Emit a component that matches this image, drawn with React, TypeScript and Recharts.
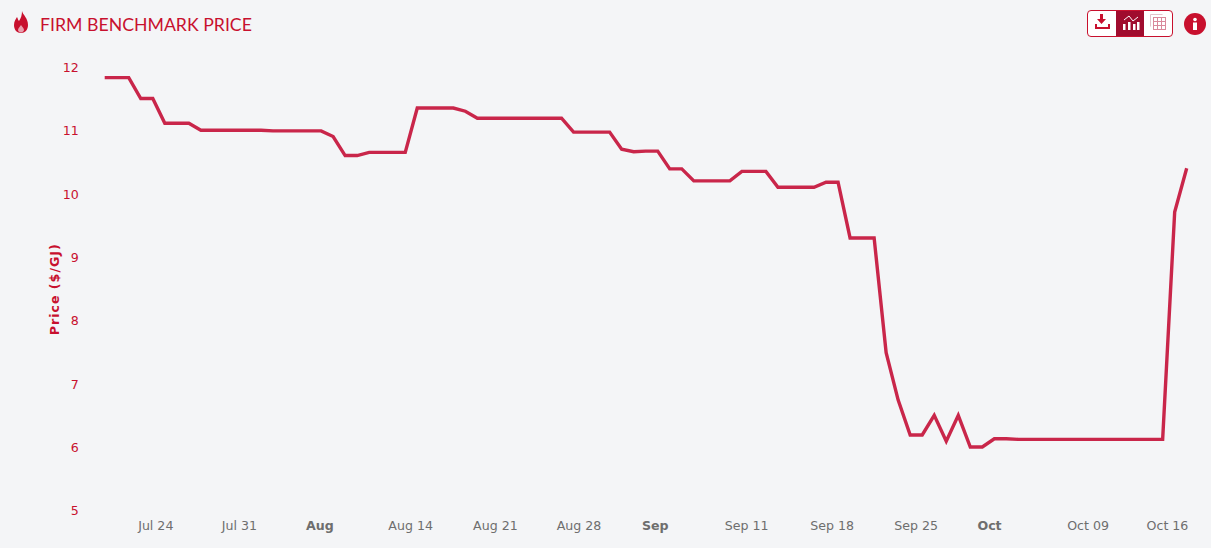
import React from 'react';
import { LineChart, Line, XAxis, YAxis } from 'recharts';

// daily price, one entry per day starting Jul 20
const prices = [
  11.84, 11.84, 11.84, 11.51, 11.51, 11.12, 11.12, 11.12, 11.01, 11.01,
  11.01, 11.01, 11.01, 11.01, 11.0, 11.0, 11.0, 11.0, 11.0, 10.91,
  10.61, 10.61, 10.66, 10.66, 10.66, 10.66, 11.36, 11.36, 11.36, 11.36,
  11.31, 11.2, 11.2, 11.2, 11.2, 11.2, 11.2, 11.2, 11.2, 10.98,
  10.98, 10.98, 10.98, 10.71, 10.67, 10.68, 10.68, 10.4, 10.4, 10.21,
  10.21, 10.21, 10.21, 10.36, 10.36, 10.36, 10.11, 10.11, 10.11, 10.11,
  10.19, 10.19, 9.31, 9.31, 9.31, 7.5, 6.75, 6.2, 6.2, 6.51,
  6.1, 6.51, 6.01, 6.01, 6.14, 6.14, 6.13, 6.13, 6.13, 6.13,
  6.13, 6.13, 6.13, 6.13, 6.13, 6.13, 6.13, 6.13, 6.13, 9.72,
  10.41,
];

// label positions in day units
const xTicks = [4.25, 11.2, 17.9, 25.45, 32.5, 39.45, 45.8, 53.4, 60.5, 67.5, 73.6, 81.8, 88.4];
const xLabels = ['Jul 24', 'Jul 31', 'Aug', 'Aug 14', 'Aug 21', 'Aug 28', 'Sep', 'Sep 11', 'Sep 18', 'Sep 25', 'Oct', 'Oct 09', 'Oct 16'];
const boldLabels = ['Aug', 'Sep', 'Oct'];
const yTicks = [5, 6, 7, 8, 9, 10, 11, 12];

const chartData = prices.map((price, day) => ({ day, price }));

const RED = '#c8102e';
const LINE = '#c9264a';
const BG = '#f4f5f7';

function DateTick({ x, y, payload }: any) {
  const label = xLabels[xTicks.indexOf(payload.value)];
  const bold = boldLabels.includes(label);
  return (
    <text x={x} y={y} dy={5} textAnchor="middle" fontFamily="DejaVu Sans" fontSize={12.6} fontWeight={bold ? 700 : 400} fill="#6e6e6e">
      {label}
    </text>
  );
}

function Flame() {
  return (
    <svg width={18} height={24} viewBox="0 0 18 24" style={{ position: 'absolute', left: 12, top: 10 }}>
      <path d="M10 1 C11 5 16 8 16 15 C16 20 13 23 9 23 C5 23 2 20 2 15 C2 11 4 9 5 7 C6 9 6 10 7 11 C9 8 10 5 10 1 Z" fill={RED} />
      <path d="M9 15 C10 17 12 18 12 20 C12 21.500 10 22.500 9 22.500 C7.500 22.500 6 21.500 6 20 C6 18 8 17 9 15 Z" fill="#e8a0ae" />
    </svg>
  );
}

function Toolbar() {
  return (
    <div style={{ position: 'absolute', left: 1087, top: 10, width: 84, height: 25, border: `1px solid ${RED}`, borderRadius: 4, background: '#fff', overflow: 'hidden' }}>
      <svg width={84} height={25} viewBox="0 0 84 25" style={{ display: 'block' }}>
        <path d="M12 3 h3 v5 h3 l-4.500 5 l-4.500 -5 h3 Z" fill={RED} />
        <path d="M8 13 v4 h13 v-4" fill="none" stroke={RED} strokeWidth={2} />
        <rect x={28} y={0} width={28} height={25} fill="#a00c2e" />
        <g fill="#fff">
          <rect x={35} y={13} width={2.500} height={6} />
          <rect x={40} y={11} width={2.500} height={8} />
          <rect x={45} y={13} width={2.500} height={6} />
          <rect x={49} y={11} width={2.500} height={8} />
        </g>
        <path d="M36 9 L41 5 L45 10 L50 6" fill="none" stroke="#fff" strokeWidth={1} />
        <g stroke="#d98a9c" strokeWidth={1} fill="none">
          <rect x={65.500} y={6.500} width={12} height={12} />
          <path d="M69.500 6.500 v12 M73.500 6.500 v12 M65.500 10.500 h12 M65.500 14.500 h12" />
          <path d="M62.500 15.500 v-12 h12" stroke="#e3c3cb" />
        </g>
      </svg>
    </div>
  );
}

function InfoBadge() {
  return (
    <svg width={22} height={22} viewBox="0 0 22 22" style={{ position: 'absolute', left: 1184, top: 13 }}>
      <circle cx={11} cy={11} r={11} fill={RED} />
      <circle cx={11} cy={6.500} r={1.800} fill="#fff" />
      <rect x={9} y={9.500} width={4} height={7.500} fill="#fff" />
    </svg>
  );
}

export default function App() {
  return (
    <div style={{ position: 'absolute', left: 0, top: 0, width: 1211, height: 548, background: BG, overflow: 'hidden' }}>
      <Flame />
      <div style={{ position: 'absolute', left: 40, top: 14, fontFamily: 'Lato', fontSize: 17.7, color: RED, whiteSpace: 'nowrap' }}>
        FIRM BENCHMARK PRICE
      </div>
      <Toolbar />
      <InfoBadge />
      <LineChart width={1211} height={548} data={chartData} margin={{ top: 67.500, right: 24.300, bottom: 0, left: 0 }}>
        <XAxis
          dataKey="day"
          type="number"
          domain={[0, 90]}
          ticks={xTicks}
          interval={0}
          height={37}
          axisLine={false}
          tickLine={false}
          tick={<DateTick />}
          tickMargin={8}
        />
        <YAxis
          type="number"
          domain={[5, 12]}
          ticks={yTicks}
          interval={0}
          width={104.700}
          axisLine={false}
          tickLine={false}
          tickMargin={20}
          tick={{ fill: RED, fontSize: 12.6, fontFamily: 'DejaVu Sans' }}
          label={{
            value: 'Price ($/GJ)',
            angle: -90,
            position: 'insideLeft',
            offset: 0,
            dx: 55,
            style: { fill: RED, fontSize: 12.6, fontWeight: 700, fontFamily: 'DejaVu Sans', letterSpacing: 1, textAnchor: 'middle' },
          }}
        />
        <Line
          dataKey="price"
          type="linear"
          stroke={LINE}
          strokeWidth={3.4}
          strokeLinejoin="miter"
          dot={false}
          isAnimationActive={false}
        />
      </LineChart>
    </div>
  );
}
